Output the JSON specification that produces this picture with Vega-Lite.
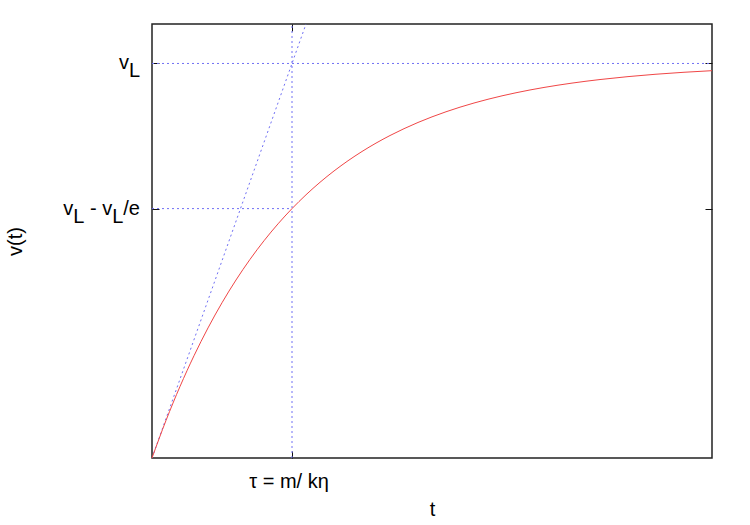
{
  "$schema": "https://vega.github.io/schema/vega-lite/v6.json",
  "width": 560,
  "height": 434,
  "autosize": "none",
  "padding": {"left": 152, "top": 24, "right": 38, "bottom": 67},
  "background": "white",
  "config": {
    "view": {"stroke": "#222222", "strokeWidth": 1.5},
    "font": "Liberation Sans",
    "axis": {"grid": false, "domain": false, "labels": false, "tickColor": "#111111", "tickWidth": 1, "tickSize": -7, "titleFont": "Liberation Sans", "titleFontSize": 20, "titleFontWeight": "normal", "titleColor": "black"}
  },
  "datasets": {
    "curve": [
      {"t": 0, "v": 0}, {"t": 0.1, "v": 0.09516}, {"t": 0.2, "v": 0.18127}, {"t": 0.3, "v": 0.25918},
      {"t": 0.4, "v": 0.32968}, {"t": 0.5, "v": 0.39347}, {"t": 0.6, "v": 0.45119}, {"t": 0.7, "v": 0.50341},
      {"t": 0.8, "v": 0.55067}, {"t": 0.9, "v": 0.59343}, {"t": 1.0, "v": 0.63212}, {"t": 1.1, "v": 0.66713},
      {"t": 1.2, "v": 0.69881}, {"t": 1.3, "v": 0.72747}, {"t": 1.4, "v": 0.7534}, {"t": 1.5, "v": 0.77687},
      {"t": 1.6, "v": 0.7981}, {"t": 1.7, "v": 0.81732}, {"t": 1.8, "v": 0.8347}, {"t": 1.9, "v": 0.85043},
      {"t": 2.0, "v": 0.86466}, {"t": 2.2, "v": 0.8892}, {"t": 2.4, "v": 0.90928}, {"t": 2.6, "v": 0.92573},
      {"t": 2.8, "v": 0.93919}, {"t": 3.0, "v": 0.95021}, {"t": 3.2, "v": 0.95924}, {"t": 3.4, "v": 0.96663},
      {"t": 3.6, "v": 0.97268}, {"t": 3.8, "v": 0.97763}, {"t": 4.0, "v": 0.98168}
    ],
    "hguides": [
      {"t0": 0, "t1": 1, "v": 0.63212}
    ],
    "vlguide": [
      {"t0": 0, "t1": 4, "v": 1}
    ],
    "vguides": [
      {"t": 1, "v0": 0, "v1": 1.1}
    ],
    "tangent": [
      {"t": 0, "v": 0}, {"t": 1.1, "v": 1.1}
    ],
    "labels": [
      {"t": 0, "v": 1, "name": "vL"},
      {"t": 0, "v": 0.63212, "name": "vL - vL/e"},
      {"t": 1, "v": 0, "name": "tau"}
    ]
  },
  "resolve": {"axis": {"x": "independent", "y": "independent"}},
  "layer": [
    {
      "data": {"name": "hguides"},
      "mark": {"type": "rule", "color": "#7070f4", "strokeWidth": 1, "strokeDash": [2, 3]},
      "encoding": {
        "x": {"field": "t0", "type": "quantitative", "scale": {"domain": [0, 4], "nice": false, "zero": false},
              "axis": {"orient": "bottom", "values": [1], "title": "t", "titlePadding": 41}},
        "x2": {"field": "t1"},
        "y": {"field": "v", "type": "quantitative", "scale": {"domain": [0, 1.1], "nice": false, "zero": false},
              "axis": {"orient": "left", "values": [0.63212, 1], "title": "v(t)", "titlePadding": 126}}
      }
    },
    {
      "data": {"name": "vguides"},
      "mark": {"type": "rule", "color": "#7070f4", "strokeWidth": 1, "strokeDash": [2, 3]},
      "encoding": {
        "x": {"field": "t", "type": "quantitative",
              "axis": {"orient": "top", "values": [1], "title": null}},
        "y": {"field": "v0", "type": "quantitative",
              "axis": {"orient": "right", "values": [0.63212, 1], "title": null}},
        "y2": {"field": "v1"}
      }
    },
    {
      "data": {"name": "vlguide"},
      "mark": {"type": "rule", "color": "#7070f4", "strokeWidth": 1, "strokeDash": [2, 3]},
      "encoding": {
        "x": {"field": "t0", "type": "quantitative", "axis": null},
        "x2": {"field": "t1"},
        "y": {"field": "v", "type": "quantitative", "axis": null}
      }
    },
    {
      "data": {"name": "tangent"},
      "mark": {"type": "line", "color": "#7070f4", "strokeWidth": 1, "strokeDash": [2, 3], "clip": true},
      "encoding": {
        "x": {"field": "t", "type": "quantitative", "axis": null},
        "y": {"field": "v", "type": "quantitative", "axis": null}
      }
    },
    {
      "data": {"name": "curve"},
      "mark": {"type": "line", "color": "#f04646", "strokeWidth": 1, "interpolate": "monotone"},
      "encoding": {
        "x": {"field": "t", "type": "quantitative", "axis": null},
        "y": {"field": "v", "type": "quantitative", "axis": null}
      }
    },
    {
      "data": {"name": "labels"},
      "transform": [{"filter": "datum.name === 'vL'"}],
      "layer": [
        {"mark": {"type": "text", "text": "v", "align": "right", "baseline": "alphabetic", "dx": -23.1, "dy": 6, "fontSize": 20, "color": "black"}, "encoding": {"x": {"field": "t", "type": "quantitative", "axis": null}, "y": {"field": "v", "type": "quantitative", "axis": null}}},
        {"mark": {"type": "text", "text": "L", "align": "right", "baseline": "alphabetic", "dx": -12, "dy": 14, "fontSize": 20, "color": "black"}, "encoding": {"x": {"field": "t", "type": "quantitative", "axis": null}, "y": {"field": "v", "type": "quantitative", "axis": null}}}
      ]
    },
    {
      "data": {"name": "labels"},
      "transform": [{"filter": "datum.name === 'vL - vL/e'"}],
      "layer": [
        {"mark": {"type": "text", "text": "v", "align": "right", "baseline": "alphabetic", "dx": -78.8, "dy": 6, "fontSize": 20, "color": "black"}, "encoding": {"x": {"field": "t", "type": "quantitative", "axis": null}, "y": {"field": "v", "type": "quantitative", "axis": null}}},
        {"mark": {"type": "text", "text": "L", "align": "right", "baseline": "alphabetic", "dx": -67.7, "dy": 14, "fontSize": 20, "color": "black"}, "encoding": {"x": {"field": "t", "type": "quantitative", "axis": null}, "y": {"field": "v", "type": "quantitative", "axis": null}}},
        {"mark": {"type": "text", "text": " - v", "align": "right", "baseline": "alphabetic", "dx": -39.8, "dy": 6, "fontSize": 20, "color": "black"}, "encoding": {"x": {"field": "t", "type": "quantitative", "axis": null}, "y": {"field": "v", "type": "quantitative", "axis": null}}},
        {"mark": {"type": "text", "text": "L", "align": "right", "baseline": "alphabetic", "dx": -28.7, "dy": 14, "fontSize": 20, "color": "black"}, "encoding": {"x": {"field": "t", "type": "quantitative", "axis": null}, "y": {"field": "v", "type": "quantitative", "axis": null}}},
        {"mark": {"type": "text", "text": "/e", "align": "right", "baseline": "alphabetic", "dx": -12, "dy": 6, "fontSize": 20, "color": "black"}, "encoding": {"x": {"field": "t", "type": "quantitative", "axis": null}, "y": {"field": "v", "type": "quantitative", "axis": null}}}
      ]
    },
    {
      "data": {"name": "labels"},
      "transform": [{"filter": "datum.name === 'tau'"}],
      "mark": {"type": "text", "text": "τ = m/ kη", "align": "center", "baseline": "alphabetic", "dx": -3, "dy": 30, "fontSize": 20, "color": "black"},
      "encoding": {"x": {"field": "t", "type": "quantitative", "axis": null}, "y": {"field": "v", "type": "quantitative", "axis": null}}
    }
  ]
}
